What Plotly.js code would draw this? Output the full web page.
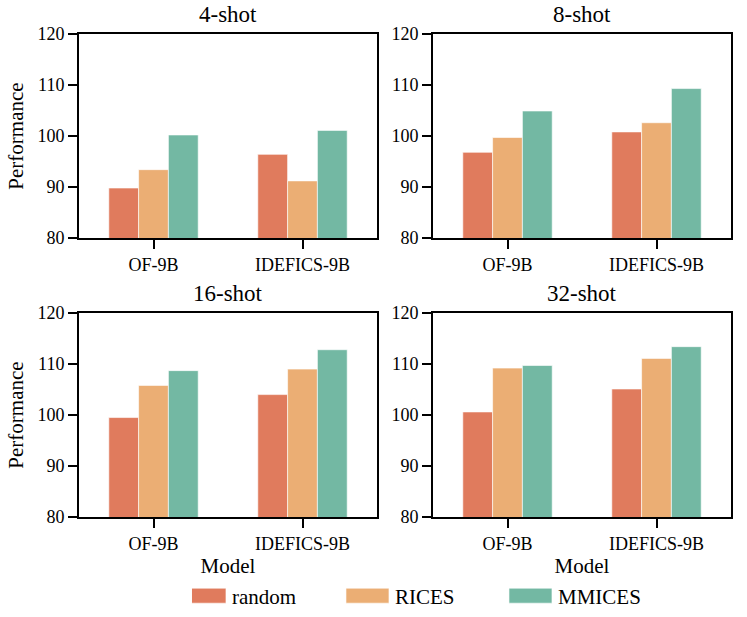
<!DOCTYPE html>
<html>
<head>
<meta charset="utf-8">
<script src="https://cdn.plot.ly/plotly-3.0.1.min.js"></script>
<style>
  #chart text { font-family: "Liberation Serif", "Times New Roman", serif !important; }
</style>
</head>
<body style="margin:0">
<div id="chart" style="width:747px;height:617px"></div>
<script>
const models = ["OF-9B", "IDEFICS-9B"];
const shots = ["4-shot", "8-shot", "16-shot", "32-shot"];
const methods = ["random", "RICES", "MMICES"];
const colors = ["#e07b5d", "#ebae74", "#73b8a3"];

// values per shot setting: [OF-9B, IDEFICS-9B]
const randomVals = [[89.8, 96.4], [96.8, 100.8], [99.5, 104.0], [100.6, 105.1]];
const ricesVals = [[93.4, 91.2], [99.7, 102.6], [105.8, 109.0], [109.2, 111.1]];
const mmicesVals = [[100.2, 101.1], [104.9, 109.3], [108.7, 112.8], [109.7, 113.4]];
const series = [randomVals, ricesVals, mmicesVals];

const W = 747, H = 617;
// panel boxes in pixels: [left, right, top, bottom]
const boxes = [
  [79, 377, 34, 238],
  [433, 731, 34, 238],
  [79, 377, 313, 517],
  [433, 731, 313, 517]
];

const serif = "Liberation Serif";
const txt = (size) => ({ family: serif, size: size, color: "#000" });

const traces = [];
shots.forEach((s, i) => {
  const ax = i === 0 ? "" : String(i + 1);
  methods.forEach((m, k) => {
    traces.push({
      type: "bar",
      x: models,
      y: series[k][i],
      name: m,
      legendgroup: m,
      showlegend: i === 0,
      xaxis: "x" + ax,
      yaxis: "y" + ax,
      marker: { color: colors[k], line: { color: "rgba(255,255,255,0.6)", width: 1 } }
    });
  });
});

const layout = {
  width: W,
  height: H,
  margin: { l: 0, r: 0, t: 0, b: 0 },
  paper_bgcolor: "#fff",
  plot_bgcolor: "#fff",
  font: txt(18),
  barmode: "group",
  bargap: 0.4,
  bargroupgap: 0,
  showlegend: true,
  legend: {
    orientation: "h",
    x: 0.257, xanchor: "left",
    y: 0.034, yanchor: "middle",
    font: txt(21),
    entrywidth: 118,
    traceorder: "normal"
  },
  annotations: []
};

boxes.forEach((b, i) => {
  const ax = i === 0 ? "" : String(i + 1);
  const xd = [b[0] / W, b[1] / W];
  const yd = [1 - b[3] / H, 1 - b[2] / H];
  layout["xaxis" + ax] = {
    domain: xd,
    anchor: "y" + ax,
    type: "category",
    range: [-0.5, 1.5],
    showline: true, linecolor: "#000", linewidth: 2, mirror: true,
    ticks: "outside", ticklen: 9, tickwidth: 2, tickcolor: "#000",
    showgrid: false, zeroline: false,
    tickfont: txt(18),
    title: i >= 2 ? { text: "Model", font: txt(21), standoff: 4 } : { text: "" }
  };
  layout["yaxis" + ax] = {
    domain: yd,
    anchor: "x" + ax,
    range: [80, 120],
    dtick: 10,
    showline: true, linecolor: "#000", linewidth: 2, mirror: true,
    ticks: "outside", ticklen: 9, tickwidth: 2, tickcolor: "#000",
    showgrid: false, zeroline: false,
    tickfont: txt(18),
    title: i % 2 === 0 ? { text: "Performance", font: txt(21), standoff: 8 } : { text: "" }
  };
  layout.annotations.push({
    text: shots[i],
    xref: "paper", yref: "paper",
    x: (xd[0] + xd[1]) / 2, y: yd[1],
    xanchor: "center", yanchor: "bottom",
    yshift: 5,
    showarrow: false,
    font: txt(23)
  });
});

Plotly.newPlot("chart", traces, layout, { displayModeBar: false }).then(gd => {
  // widen the legend patches to look like matplotlib handles
  gd.querySelectorAll(".legend .legendpoints path").forEach(p => {
    p.setAttribute("d", "M14,7.5H-29V-7.5H14Z");
  });
});
</script>
</body>
</html>
